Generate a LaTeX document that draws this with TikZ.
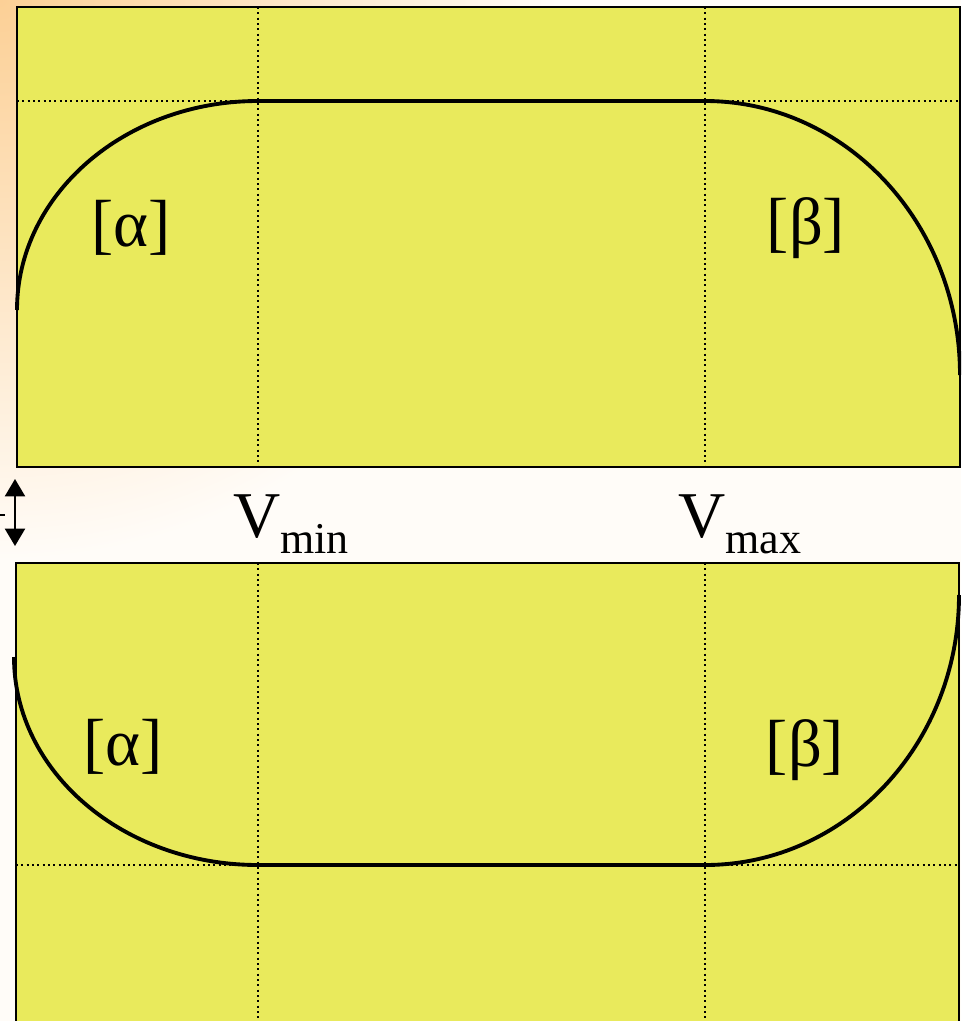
\documentclass[tikz,border=0pt]{standalone}
\usepackage{fontspec}
\setmainfont{Liberation Serif}
\usetikzlibrary{arrows.meta}
\definecolor{bgwhite}{RGB}{255,252,248}
\definecolor{bgorange}{RGB}{252,208,150}
\definecolor{panel}{RGB}{233,234,92}
\tikzset{
  panelbox/.style={fill=panel, draw=black, line width=1.8pt},
  gridline/.style={draw=black, line width=1.6pt, dash pattern=on 1.6pt off 2.4pt},
  curveline/.style={draw=black, line width=2.9pt},
  greeklabel/.style={font=\fontsize{50}{50}\selectfont, inner sep=0pt},
  vlabel/.style={font=\fontsize{49}{49}\selectfont, inner sep=0pt, anchor=base west},
}
\newcommand{\subtxt}[1]{\raisebox{-12pt}{\fontsize{33}{33}\selectfont #1}}
\begin{document}
\begin{tikzpicture}[x=0.75pt,y=-0.75pt]
\useasboundingbox (0,0) rectangle (961,1021);
\begin{scope}
\clip (0,0) rectangle (961,1021);
\fill[bgwhite] (0,0) rectangle (961,1021);
\shade[inner color=bgorange, outer color=bgwhite] (0,0) circle (560);
% top panel
\path[panelbox] (17,7) rectangle (960,467);
\draw[gridline] (17,101) -- (960,101);
\draw[gridline] (258,7) -- (258,467);
\draw[gridline] (705,7) -- (705,467);
\draw[curveline] (17,310) .. controls (17,194.6) and (124.9,101) .. (258,101)
  -- (705,101) .. controls (845.8,101) and (960,223.7) .. (960,375);
\node[greeklabel] (ta) at (131,228) {[α]};
\node[greeklabel] (tb) at (806,228) {[β]};
% bottom panel
\path[panelbox] (16,563) rectangle (959,1030);
\draw[gridline] (16,865) -- (959,865);
\draw[gridline] (258,563) -- (258,1030);
\draw[gridline] (705,563) -- (705,1030);
\draw[curveline] (14,657) .. controls (14,771.9) and (123.2,865) .. (258,865)
  -- (705,865) .. controls (845.3,865) and (959,744.1) .. (959,595);
\node[greeklabel] (ba) at (123,747) {[α]};
\node[greeklabel] (bb) at (805,750) {[β]};
% labels between panels
\node[vlabel] (vmin) at (233,537) {V\subtxt{min}};
\node[vlabel] (vmax) at (678,537) {V\subtxt{max}};
% double arrow
\coordinate (arrtop) at (15,479);
\coordinate (arrbot) at (15,546);
\draw[line width=1.6pt, {Triangle[length=13pt,width=15pt]}-{Triangle[length=13pt,width=15pt]}] (arrtop) -- (arrbot);
\coordinate (tickl) at (0,515);
\coordinate (tickr) at (5,515);
\draw[line width=1.2pt] (tickl) -- (tickr);
\end{scope}
\end{tikzpicture}
\end{document}
